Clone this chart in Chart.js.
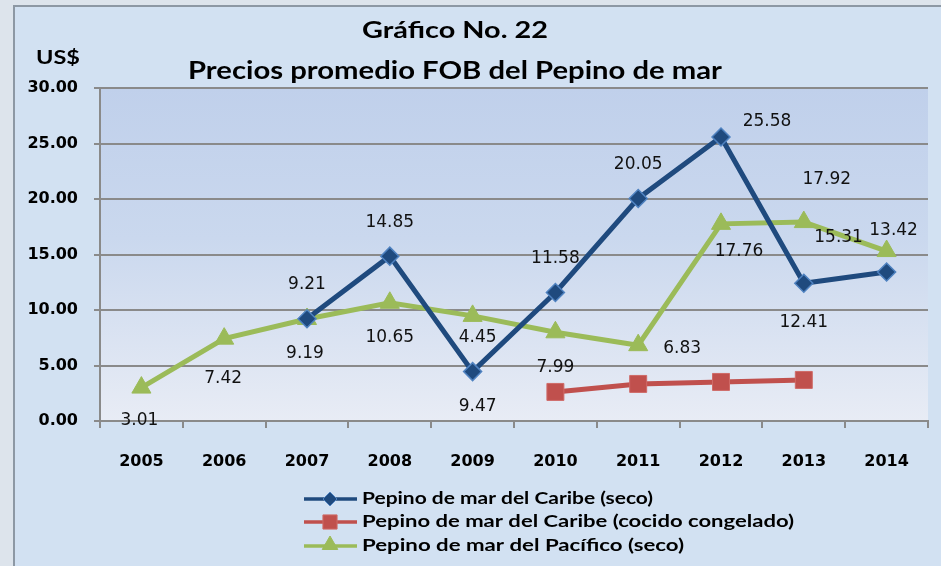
<!DOCTYPE html>
<html>
<head>
<meta charset="utf-8">
<script src="https://cdn.jsdelivr.net/npm/chart.js@4.4.1/dist/chart.umd.min.js"></script>
<style>
  html, body { margin: 0; padding: 0; background: #dde4ec; }
  #wrap { width: 941px; height: 566px; position: relative; }
</style>
</head>
<body>
<div id="wrap"><canvas id="c" width="941" height="566"></canvas></div>
<script>
// ---- data ----
const years = ['2005','2006','2007','2008','2009','2010','2011','2012','2013','2014'];
const caribeSeco    = [null, null, 9.21, 14.85, 4.45, 11.58, 20.05, 25.58, 12.41, 13.42];
const caribeCocido  = [null, null, null, null, null, 2.62, 3.34, 3.52, 3.70, null];
const pacificoSeco  = [3.01, 7.42, 9.19, 10.65, 9.47, 7.99, 6.83, 17.76, 17.92, 15.31];
const seriesNames = [
  'Pepino de mar del Caribe (seco)',
  'Pepino de mar del Caribe (cocido congelado)',
  'Pepino de mar del Pacífico (seco)'
];
const yTicks = [0, 5, 10, 15, 20, 25, 30];
const titleLines = ['Gráfico No. 22', 'Precios promedio FOB del Pepino de mar'];
const yUnit = 'US$';

// label placement (pixel offsets from each point, as in the original)
const caribeSecoLabelOffsets = [null, null, [0,-34], [0,-34], [5,-34], [0,-34], [0,-34], [46,-15], [0,39], [7,-41]];
const caribeCocidoLabelOffsets = [null, null, null, null, null, null, null, null, null, null];
const pacificoSecoLabelOffsets = [[-2,33], [-1,40], [-2,35], [0,35], [5,91], [0,35], [44,3], [18,28], [23,-43], [-48,-13]];

const GRID = '#8a8a8a';

const bgPlugin = {
  id: 'bg',
  beforeDraw(chart) {
    const ctx = chart.ctx, a = chart.chartArea;
    ctx.save();
    ctx.fillStyle = '#dde4ec';
    ctx.fillRect(0, 0, chart.width, chart.height);
    ctx.fillStyle = '#d2e1f2';
    ctx.fillRect(14, 6, chart.width - 14, chart.height - 6);
    ctx.strokeStyle = '#8d98a4';
    ctx.lineWidth = 2;
    ctx.beginPath();
    ctx.moveTo(14, chart.height); ctx.lineTo(14, 6); ctx.lineTo(chart.width, 6);
    ctx.stroke();
    const g = ctx.createLinearGradient(0, a.top, 0, a.bottom);
    g.addColorStop(0, '#c0d0eb');
    g.addColorStop(0.45, '#cad8ee');
    g.addColorStop(1, '#e8ecf5');
    ctx.fillStyle = g;
    ctx.fillRect(a.left, a.top, a.right - a.left, a.bottom - a.top);
    ctx.restore();
  },
  afterDraw(chart) {
    const ctx = chart.ctx;
    ctx.save();
    ctx.fillStyle = '#000';
    ctx.textAlign = 'center';
    ctx.textBaseline = 'middle';
    const drawFit = (txt, cx, cy, font, w, align) => {
      ctx.font = font;
      ctx.textAlign = align || 'center';
      const m = ctx.measureText(txt).width;
      ctx.save();
      ctx.translate(cx, cy);
      ctx.scale(w / m, 1);
      ctx.fillText(txt, 0, 0);
      ctx.restore();
    };
    drawFit(titleLines[0], 455, 31, 'bold 22px Lato', 186);
    drawFit(titleLines[1], 455, 71, 'bold 25px Lato', 534);
    drawFit(yUnit, 58, 58, 'bold 19px Lato', 44);
    // legend
    const rows = [499, 522, 546];
    const widths = [291, 432, 322];
    const legendRadius = [7, 10, 9];
    chart.data.datasets.forEach((ds, i) => {
      const y = rows[i];
      ctx.strokeStyle = ds.borderColor;
      ctx.lineWidth = 3.5;
      ctx.beginPath(); ctx.moveTo(304, y); ctx.lineTo(357, y); ctx.stroke();
      ctx.fillStyle = ds.pointBackgroundColor;
      ctx.strokeStyle = ds.pointBorderColor;
      ctx.lineWidth = 1;
      Chart.helpers.drawPoint(ctx, {
        pointStyle: ds.pointStyle, radius: legendRadius[i], borderWidth: 1
      }, 330, ds.pointStyle === 'triangle' ? y - 1 : y);
      ctx.fillStyle = '#000';
      drawFit(ds.label, 362, y, 'bold 17px Lato', widths[i], 'left');
    });
    ctx.restore();
  }
};

const labelPlugin = {
  id: 'vlabels',
  afterDatasetsDraw(chart) {
    const ctx = chart.ctx;
    ctx.save();
    ctx.font = '17px "DejaVu Sans"';
    ctx.fillStyle = '#111';
    ctx.textAlign = 'center';
    ctx.textBaseline = 'middle';
    chart.data.datasets.forEach((ds, i) => {
      const meta = chart.getDatasetMeta(i);
      const offs = ds.labelOffsets;
      meta.data.forEach((pt, j) => {
        const v = ds.data[j];
        if (v == null || !offs[j]) return;
        ctx.fillText(v.toFixed(2), pt.x + offs[j][0], pt.y + offs[j][1]);
      });
    });
    ctx.restore();
  }
};

new Chart(document.getElementById('c'), {
  type: 'line',
  data: {
    labels: years,
    datasets: [
      {
        label: seriesNames[0], data: caribeSeco, labelOffsets: caribeSecoLabelOffsets,
        borderColor: '#1f4a7e', borderWidth: 5,
        pointStyle: 'rectRot', pointRadius: 9, pointBackgroundColor: '#1f4a7e',
        pointBorderColor: '#4f82c0', pointBorderWidth: 1.5, spanGaps: false
      },
      {
        label: seriesNames[1], data: caribeCocido, labelOffsets: caribeCocidoLabelOffsets,
        borderColor: '#c0504d', borderWidth: 5,
        pointStyle: 'rect', pointRadius: 12, pointBackgroundColor: '#c0504d',
        pointBorderColor: '#cf6a67', pointBorderWidth: 1
      },
      {
        label: seriesNames[2], data: pacificoSeco, labelOffsets: pacificoSecoLabelOffsets,
        borderColor: '#9bbb59', borderWidth: 5,
        pointStyle: 'triangle', pointRadius: 11, pointBackgroundColor: '#9bbb59',
        pointBorderColor: '#9bbb59', pointBorderWidth: 1
      }
    ]
  },
  options: {
    responsive: false,
    animation: false,
    layout: { padding: { top: 88, right: 5, bottom: 0, left: 0 } },
    elements: { line: { tension: 0 } },
    plugins: {
      legend: { display: false },
      title: { display: false },
      tooltip: { enabled: false }
    },
    scales: {
      x: {
        offset: true,
        grid: { display: true, drawOnChartArea: false, drawTicks: true, tickLength: 7, offset: true, color: GRID, lineWidth: 2 },
        border: { display: true, color: GRID, width: 2 },
        ticks: { color: '#000', padding: 24, font: { family: 'DejaVu Sans', weight: 'bold', size: 16 }, maxRotation: 0 },
        afterFit(s) { s.height = 145; }
      },
      y: {
        min: 0, max: 30,
        afterBuildTicks(s) { s.ticks = yTicks.map(v => ({ value: v })); },
        grid: { color: GRID, lineWidth: 2, drawTicks: true, tickLength: 6 },
        border: { display: true, color: GRID, width: 2 },
        ticks: {
          color: '#000', padding: 16,
          font: { family: 'DejaVu Sans', weight: 'bold', size: 16 },
          callback: v => Number(v).toFixed(2)
        },
        afterFit(s) { s.width = 100; }
      }
    }
  },
  plugins: [bgPlugin, labelPlugin]
});
</script>
</body>
</html>
